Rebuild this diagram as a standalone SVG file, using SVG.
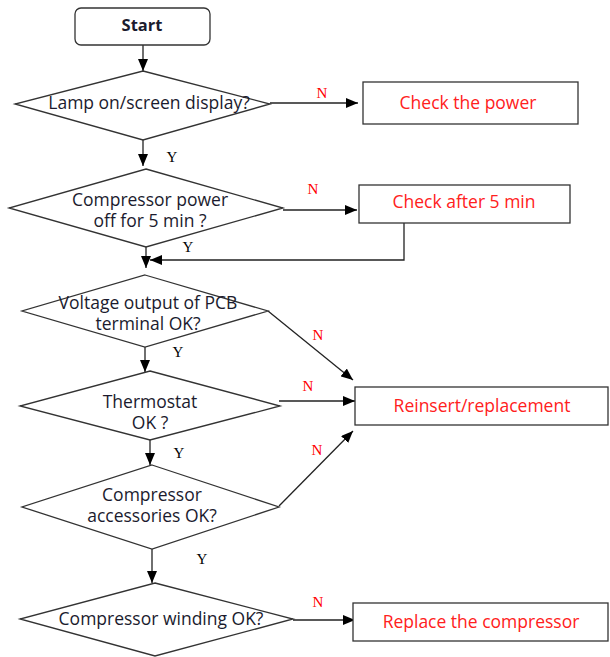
<svg xmlns="http://www.w3.org/2000/svg" width="610" height="657" viewBox="0 0 610 657">
<defs>
<marker id="ah" markerWidth="12" markerHeight="10" refX="12" refY="5" orient="auto" markerUnits="userSpaceOnUse">
<path d="M0,0 L12,5 L0,10 Z" fill="#000"/>
</marker>
<style>
.shape{fill:#fff;stroke:#333;stroke-width:1.3}
.t{font-family:"Open Sans","Noto Sans",sans-serif;font-size:17.5px;fill:#1b1b2e;text-anchor:middle}
.r{font-family:"Open Sans","Noto Sans",sans-serif;font-size:17.5px;fill:#ff2020;text-anchor:middle}
.b{font-weight:bold;font-size:16.5px}
.c{fill:none;stroke:#222;stroke-width:1.3}
.n{font-family:"Liberation Serif","DejaVu Serif",serif;font-size:15px;fill:#ff0000;text-anchor:middle}
.y{font-family:"Liberation Serif","DejaVu Serif",serif;font-size:15px;fill:#000;text-anchor:middle}
</style>
</defs>
<rect width="610" height="657" fill="#fff"/>
<g id="connectors">
<path class="c" d="M143,45 V71" marker-end="url(#ah)"/>
<path class="c" d="M143,140 V166" marker-end="url(#ah)"/>
<path class="c" d="M270,103 H358" marker-end="url(#ah)"/>
<path class="c" d="M283,210 H357" marker-end="url(#ah)"/>
<path class="c" d="M404,223 V260 H150" marker-end="url(#ah)"/>
<path class="c" d="M146,247 V268" marker-end="url(#ah)"/>
<path class="c" d="M268,311 L353,380" marker-end="url(#ah)"/>
<path class="c" d="M145,347 V372" marker-end="url(#ah)"/>
<path class="c" d="M279,401 H355" marker-end="url(#ah)"/>
<path class="c" d="M150,440 V465" marker-end="url(#ah)"/>
<path class="c" d="M279,506 L353,431" marker-end="url(#ah)"/>
<path class="c" d="M152,549 V583" marker-end="url(#ah)"/>
<path class="c" d="M293,620 H355" marker-end="url(#ah)"/>
<text class="y" x="172" y="162">Y</text>
<text class="n" x="322" y="98">N</text>
<text class="n" x="313" y="194">N</text>
<text class="y" x="188" y="252">Y</text>
<text class="n" x="318" y="340">N</text>
<text class="y" x="178" y="357">Y</text>
<text class="n" x="308" y="391">N</text>
<text class="y" x="179" y="458">Y</text>
<text class="n" x="317" y="455">N</text>
<text class="y" x="202" y="564">Y</text>
<text class="n" x="318" y="607">N</text>
</g>
<g id="start">
<rect class="shape" x="75" y="8" width="135" height="37" rx="6"/>
<text class="t b" x="142" y="31">Start</text>
</g>
<g id="d1">
<polygon class="shape" points="143,71 270,104 143,140 15,104"/>
<text class="t" x="149" y="109">Lamp on/screen display?</text>
</g>
<g id="check-power">
<rect class="shape" x="363" y="82" width="215" height="42"/>
<text class="r" x="468" y="109">Check the power</text>
</g>
<g id="d2">
<polygon class="shape" points="146,169 283,208 146,247 9,208"/>
<text class="t" x="150" y="206">Compressor power</text>
<text class="t" x="150" y="227">off for 5 min ?</text>
</g>
<g id="check-5min">
<rect class="shape" x="359" y="185" width="211" height="38"/>
<text class="r" x="464" y="208">Check after 5 min</text>
</g>
<g id="d3">
<polygon class="shape" points="145,275 268,311 145,347 22,311"/>
<text class="t" x="148" y="309">Voltage output of PCB</text>
<text class="t" x="148" y="330">terminal OK?</text>
</g>
<g id="reinsert">
<rect class="shape" x="355" y="387" width="253" height="38"/>
<text class="r" x="482" y="412">Reinsert/replacement</text>
</g>
<g id="d4">
<polygon class="shape" points="150,371 280,406 150,440 20,406"/>
<text class="t" x="150" y="408">Thermostat</text>
<text class="t" x="150" y="429">OK ?</text>
</g>
<g id="d5">
<polygon class="shape" points="152,465 279,507 152,549 22,507"/>
<text class="t" x="152" y="501">Compressor</text>
<text class="t" x="152" y="522">accessories OK?</text>
</g>
<g id="d6">
<polygon class="shape" points="155,583 293,619 155,656 20,619"/>
<text class="t" x="161" y="625">Compressor winding OK?</text>
</g>
<g id="replace">
<rect class="shape" x="353" y="603" width="255" height="38"/>
<text class="r" x="481" y="628">Replace the compressor</text>
</g>
</svg>
